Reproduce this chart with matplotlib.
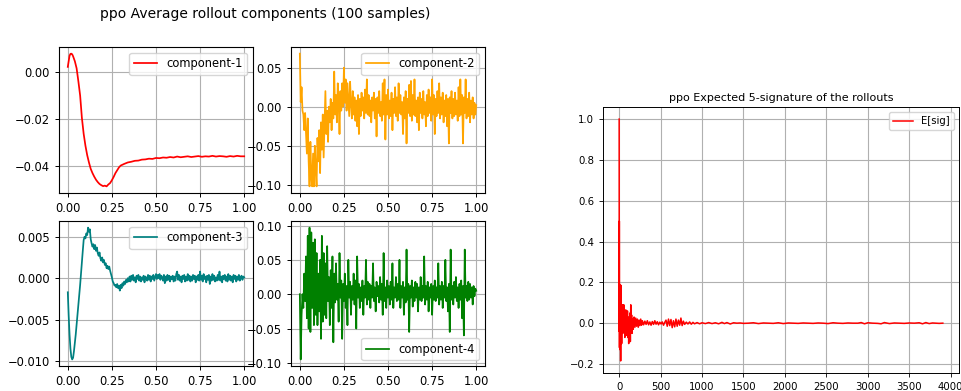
#!/usr/bin/env python3
"""Average rollout components and expected 5-signature for the ppo rollouts."""
import numpy as np
import matplotlib
matplotlib.use("Agg")
import matplotlib.pyplot as plt

SUPTITLE = "ppo Average rollout components (100 samples)"
SIG_TITLE = "ppo Expected 5-signature of the rollouts"

# component-1 is smooth, read at irregular x positions
comp1_x = [0.0, 0.005, 0.01, 0.015, 0.02, 0.025, 0.03, 0.04, 0.05, 0.06,
           0.07, 0.08, 0.09, 0.10, 0.11, 0.12, 0.13, 0.14, 0.15, 0.16,
           0.17, 0.18, 0.19, 0.20, 0.21, 0.22, 0.23, 0.24, 0.25, 0.26,
           0.27, 0.28, 0.29, 0.30, 0.32, 0.34, 0.36, 0.38, 0.40, 0.42,
           0.44, 0.46, 0.48, 0.50, 0.52, 0.54, 0.56, 0.58, 0.60, 0.62,
           0.64, 0.66, 0.68, 0.70, 0.72, 0.74, 0.76, 0.78, 0.80, 0.82,
           0.84, 0.86, 0.88, 0.90, 0.92, 0.94, 0.96, 0.98, 1.0]
comp1_y = [0.0021, 0.0045, 0.0068, 0.0076, 0.0077, 0.0074, 0.0066, 0.0045, 0.0015, -0.0040,
           -0.0100, -0.0195, -0.0262, -0.0312, -0.0352, -0.0383, -0.0410, -0.0428, -0.0443, -0.0456,
           -0.0466, -0.0474, -0.0479, -0.0483, -0.0481, -0.0484, -0.0476, -0.0470, -0.0458, -0.0444,
           -0.0428, -0.0416, -0.0404, -0.0396, -0.0389, -0.0383, -0.0380, -0.0376, -0.0375, -0.0371,
           -0.0370, -0.0367, -0.0368, -0.0364, -0.0365, -0.0362, -0.0363, -0.0360, -0.0362, -0.0358,
           -0.0361, -0.0359, -0.0357, -0.0360, -0.0358, -0.0356, -0.0359, -0.0357, -0.0358, -0.0355,
           -0.0358, -0.0356, -0.0357, -0.0359, -0.0356, -0.0358, -0.0355, -0.0357, -0.0357]

# the noisy components are read at 201 evenly spaced samples over [0, 1]
comp2_y = [0.068, 0.006, 0.025, -0.005, -0.010, -0.030, -0.008, -0.035, -0.060, -0.015,
           -0.070, -0.102, -0.045, -0.090, -0.102, -0.060, -0.102, -0.050, -0.080, -0.102,
           -0.040, -0.070, -0.030, -0.085, -0.020, -0.055, -0.010, -0.065, -0.025, 0.020,
           -0.035, -0.005, -0.045, 0.000, -0.020, 0.010, -0.030, 0.005, -0.015, 0.045,
           -0.010, 0.015, -0.020, 0.030, 0.005, -0.035, 0.020, -0.005, 0.030, 0.000,
           0.050, 0.005, 0.035, -0.005, 0.030, 0.010, -0.012, 0.032,
           0.005, -0.015, 0.020, -0.010, 0.012, -0.018, 0.008, -0.025, 0.015, -0.035,
           0.010, -0.012, 0.018, -0.005, 0.012, -0.015, 0.022, -0.008, 0.035, -0.010,
           0.015, -0.012, 0.008, -0.020, 0.012, -0.005, 0.018, -0.015, 0.010, -0.038,
           0.012, -0.008, 0.020, -0.012, 0.006, -0.018, 0.030, -0.010, 0.035, -0.042,
           0.015, -0.010, 0.022, -0.015, 0.008, -0.012, 0.018, -0.030, 0.010, -0.008,
           0.025, -0.012, 0.012, -0.018, 0.030, -0.008, 0.015, -0.010, 0.006, -0.035,
           0.012, -0.015, 0.020, -0.047, 0.010, -0.008, 0.028, -0.012, 0.033, -0.018,
           0.015, -0.010, 0.035, -0.012, 0.008, -0.020, 0.012, -0.030, 0.018, -0.008,
           0.010, -0.015, 0.020, -0.010, 0.006, -0.025, 0.015, -0.012, 0.022, -0.008,
           0.012, -0.018, 0.035, -0.010, 0.015, -0.035, 0.010, -0.012, 0.020, -0.008,
           0.030, -0.015, 0.012, -0.010, 0.018, -0.020, 0.008, -0.012, 0.015, -0.025,
           0.010, -0.047, 0.012, -0.008, 0.020, -0.015, 0.010, -0.012, 0.018, -0.010,
           0.008, -0.018, 0.025, -0.012, 0.035, -0.010, 0.015, -0.047, 0.012, -0.008,
           0.035, -0.015, 0.010, -0.012, 0.018, -0.020, 0.008, -0.010, 0.012, -0.015,
           0.005, -0.010, 0.002]

comp3_y = [-0.0017, -0.0045, -0.0068, -0.0085, -0.0095, -0.0098, -0.0096, -0.0088, -0.0078, -0.0068,
           -0.0056, -0.0044, -0.0032, -0.0020, -0.0008, 0.0006, 0.0020, 0.0033, 0.0046, 0.0050,
           0.0048, 0.0054, 0.0052, 0.0061, 0.0056, 0.0059, 0.0047, 0.0042, 0.0038, 0.0041,
           0.0035, 0.0040, 0.0033, 0.0037, 0.0030, 0.0027, 0.0031, 0.0024, 0.0021, 0.0025,
           0.0019, 0.0022, 0.0016, 0.0018, 0.0012, 0.0015, 0.0011, 0.0014, 0.0009, 0.0005,
           0.0001, -0.0004, -0.0006, -0.0009, -0.0008, -0.0011, -0.0007, -0.0012, -0.0009, -0.0015,
           -0.0008, -0.0012, -0.0006, -0.0009, -0.0004, -0.0007, -0.0002, -0.0005, 0.0000, -0.0004,
           0.0002, -0.0004, 0.0003, -0.0002, 0.0004, -0.0003, 0.0001, -0.0005, 0.0003, -0.0001,
           0.0004, -0.0003, 0.0002, -0.0004, 0.0001, -0.0002, 0.0003, -0.0005, 0.0002, 0.0000,
           -0.0003, 0.0004, -0.0002, 0.0003, -0.0004, 0.0002, -0.0001, 0.0004, -0.0003, 0.0001,
           0.0005, -0.0001, 0.0004, 0.0000, 0.0005, -0.0002, 0.0003, 0.0001, -0.0003, 0.0004,
           -0.0006, 0.0002, -0.0003, 0.0004, -0.0002, 0.0003, -0.0004, 0.0002, -0.0001, 0.0003,
           -0.0004, 0.0002, -0.0003, 0.0005, 0.0008, -0.0002, 0.0004, -0.0003, 0.0002, -0.0005,
           0.0003, -0.0001, 0.0004, -0.0004, 0.0002, -0.0003, 0.0005, -0.0002, 0.0003, -0.0004,
           0.0002, -0.0003, 0.0004, -0.0001, 0.0003, -0.0005, 0.0002, -0.0002, 0.0004, -0.0003,
           0.0008, -0.0002, 0.0003, -0.0004, 0.0005, -0.0001, 0.0002, -0.0005, 0.0003, -0.0002,
           0.0004, -0.0007, 0.0002, -0.0003, 0.0005, -0.0002, 0.0003, -0.0004, 0.0001, -0.0003,
           0.0004, -0.0002, 0.0008, -0.0003, 0.0002, -0.0005, 0.0003, -0.0001, 0.0004, -0.0003,
           0.0002, -0.0004, 0.0005, -0.0002, 0.0003, -0.0003, 0.0002, -0.0005, 0.0004, -0.0001,
           0.0003, -0.0004, 0.0002, -0.0002, 0.0004, -0.0003, 0.0001, 0.0003, -0.0002, 0.0002,
           0.0001]

comp4_y = [0.000, -0.095, -0.030, 0.000, -0.020, 0.030, -0.010, 0.055, -0.035, 0.085,
           -0.050, 0.097, -0.055, 0.090, -0.020, 0.075, -0.045, 0.080, -0.030, 0.060,
           -0.045, 0.030, -0.025, 0.050, -0.065, 0.085, -0.040, 0.060, -0.030, 0.045,
           -0.035, 0.070, -0.010, 0.025, -0.045, 0.035, -0.020, 0.055, -0.070, 0.030,
           -0.012, 0.045, -0.008, 0.015, -0.040, 0.060, -0.005, 0.020, -0.065, 0.015,
           -0.010, 0.030, -0.020, 0.012, -0.045, 0.050, -0.005, 0.018, -0.030, 0.012,
           -0.008, 0.030, -0.015, 0.020, -0.050, 0.055, -0.005, 0.015, -0.020, 0.010,
           -0.010, 0.020, -0.030, 0.012, -0.005, 0.050, -0.015, 0.018, -0.008, 0.015,
           -0.020, 0.012, -0.005, 0.045, -0.010, 0.010, -0.025, 0.018, -0.003, 0.012,
           -0.012, 0.025, -0.008, 0.015, -0.030, 0.060, -0.010, 0.010, -0.020, 0.020,
           -0.005, 0.012, -0.015, 0.018, -0.008, 0.045, -0.020, 0.010, -0.005, 0.025,
           -0.010, 0.015, -0.008, 0.050, -0.020, 0.012, -0.005, 0.018, -0.030, 0.010,
           -0.012, 0.065, -0.008, 0.015, -0.055, 0.012, -0.005, 0.020, -0.018, 0.010,
           -0.010, 0.018, -0.005, 0.015, -0.025, 0.010, -0.008, 0.025, -0.010, 0.012,
           -0.005, 0.055, -0.015, 0.012, -0.008, 0.018, -0.025, 0.010, -0.005, 0.015,
           -0.030, 0.012, -0.008, 0.020, -0.010, 0.010, -0.005, 0.045, -0.015, 0.012,
           -0.008, 0.018, -0.020, 0.012, -0.005, 0.050, -0.010, 0.010, -0.025, 0.015,
           -0.055, 0.065, -0.008, 0.012, -0.015, 0.018, -0.005, 0.025, -0.010, 0.010,
           -0.020, 0.015, -0.008, 0.020, -0.035, 0.012, -0.060, 0.065, -0.005, 0.012,
           -0.010, 0.018, -0.008, 0.015, -0.005, 0.010, -0.015, 0.012, -0.003, 0.008,
           0.005]

# expected signature terms (index, value)
sig_x = [0, 1, 2, 3, 4, 5, 6, 8, 10, 12, 14, 16, 18, 20, 22, 24, 26, 28, 30, 33,
         36, 40, 44, 48, 52, 56, 60, 64, 68, 72, 76, 80, 85, 90, 95, 100, 105, 110, 115, 120,
         125, 130, 135, 140, 145, 150, 155, 160, 170, 180, 190, 200, 210, 220, 230, 240, 250, 260, 270, 280,
         295, 310, 325, 340, 355, 370, 385, 400, 415, 430, 445, 460, 475, 490, 505, 520, 535, 550, 565, 580,
         595, 610, 625, 640, 655, 670, 685, 700, 715, 730, 745, 760, 775, 790, 810, 830, 850, 870, 890, 910,
         940, 970, 1000, 1040, 1080, 1120, 1160, 1200, 1240, 1270, 1300, 1340, 1380, 1420, 1460, 1500, 1560, 1620, 1680, 1740,
         1800, 1860, 1920, 1980, 2040, 2100, 2160, 2220, 2280, 2340, 2400, 2460, 2520, 2580, 2640, 2700, 2760, 2820, 2880, 2920,
         2960, 3000, 3060, 3120, 3160, 3200, 3260, 3320, 3380, 3440, 3500, 3560, 3620, 3660, 3700, 3740, 3780, 3820, 3860, 3905]
sig_y = [1.0, -0.04, 0.5, 0.02, -0.12, 0.18, -0.03, 0.19, -0.13, 0.15, -0.06, 0.10, -0.185, 0.12, -0.09, 0.185, -0.04, 0.08, -0.10, 0.06,
         -0.02, 0.09, -0.05, 0.06, -0.03, 0.09, -0.04, 0.05, -0.07, 0.03, -0.02, 0.065, -0.06, 0.04, -0.03, 0.06, -0.07, 0.03, -0.10, 0.02,
         -0.04, 0.05, -0.09, 0.09, -0.02, 0.04, -0.05, 0.02, -0.03, 0.03, -0.02, 0.025, -0.015, 0.02, -0.02, 0.015, -0.012, 0.02, -0.01, 0.012,
         -0.008, 0.010, -0.006, 0.012, -0.008, 0.006, -0.010, 0.008, -0.006, 0.012, -0.005, 0.007, -0.008, 0.005, -0.004, 0.006, -0.010, 0.004, 0.015, -0.015,
         0.020, -0.012, 0.018, -0.022, 0.012, -0.018, 0.020, -0.015, 0.015, -0.010, 0.025, -0.012, 0.010, -0.006, 0.005, -0.004, 0.006, -0.005, 0.004, -0.003,
         0.003, -0.003, 0.002, -0.002, 0.003, -0.002, 0.002, -0.003, 0.004, -0.002, 0.003, -0.004, 0.002, 0.000, 0.001, -0.001, 0.000, 0.002, -0.002, 0.001,
         0.000, -0.001, 0.002, -0.002, 0.001, 0.000, -0.001, 0.001, 0.000, -0.001, 0.001, 0.000, -0.002, 0.002, 0.000, -0.001, 0.001, 0.000, 0.000, 0.003,
         -0.003, 0.002, 0.000, -0.001, -0.003, 0.003, -0.002, 0.001, 0.000, -0.001, 0.001, 0.000, 0.002, -0.003, 0.003, -0.002, 0.001, 0.000, -0.001, 0.000]


def style_left(ax):
    ax.grid(True)
    ax.tick_params(labelsize=8.3, length=3.2, width=0.7)
    for sp in ax.spines.values():
        sp.set_linewidth(0.8)


def main():
    fig = plt.figure(figsize=(9.62, 3.91), dpi=100)

    xs = np.linspace(0.0, 1.0, len(comp2_y))
    ax1 = fig.add_axes([0.0613, 0.5064, 0.2017, 0.3734])
    ax2 = fig.add_axes([0.3025, 0.5064, 0.2017, 0.3734])
    ax3 = fig.add_axes([0.0613, 0.0639, 0.2017, 0.3708])
    ax4 = fig.add_axes([0.3025, 0.0639, 0.2017, 0.3708])

    ax1.plot(comp1_x, comp1_y, color="red", lw=1.25, label="component-1")
    ax2.plot(xs, comp2_y, color="orange", lw=1.25, label="component-2")
    ax3.plot(xs, comp3_y, color="teal", lw=1.25, label="component-3")
    ax4.plot(xs, comp4_y, color="green", lw=1.25, label="component-4")

    for ax, loc in ((ax1, "upper right"), (ax2, "upper right"),
                    (ax3, "upper right"), (ax4, "lower right")):
        style_left(ax)
        ax.set_xticks([0.0, 0.25, 0.5, 0.75, 1.0])
        ax.legend(loc=loc, fontsize=8.3)
    ax1.set_yticks([0.0, -0.02, -0.04])
    ax2.set_yticks([0.05, 0.0, -0.05, -0.10])
    ax3.set_yticks([0.005, 0.0, -0.005, -0.010])
    ax4.set_yticks([0.10, 0.05, 0.0, -0.05, -0.10])

    fig.text(0.2755, 0.964, SUPTITLE, ha="center", va="center", fontsize=10)

    # expected signature panel
    axs = fig.add_axes([0.6268, 0.046, 0.3701, 0.6803])
    axs.plot(sig_x, sig_y, color="red", lw=1.1, label="E[sig]")
    axs.set_title(SIG_TITLE, fontsize=8, pad=4)
    axs.grid(True)
    axs.tick_params(labelsize=7.3, length=2.8, width=0.6)
    for sp in axs.spines.values():
        sp.set_linewidth(0.7)
    axs.set_xticks(range(0, 4001, 500))
    axs.set_yticks([-0.2, 0.0, 0.2, 0.4, 0.6, 0.8, 1.0])
    axs.legend(loc="upper right", fontsize=7.2)

    fig.savefig("out.png", dpi=100)
    plt.close(fig)


if __name__ == "__main__":
    main()
